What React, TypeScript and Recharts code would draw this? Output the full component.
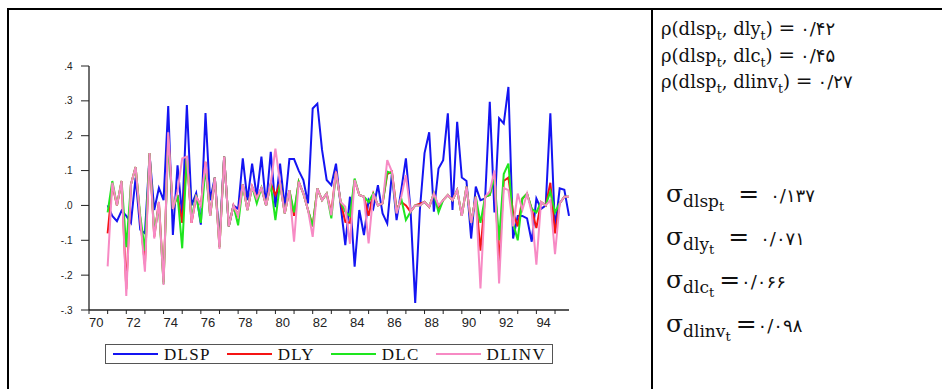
import { LineChart, Line, XAxis, YAxis } from 'recharts';

// quarterly index: 0 = 1970Q1, data starts 1971Q1 (index 4), axis ends 1995Q4
const firstObs = 4;
const lastIdx = 103;

const yearTicks = [70, 71, 72, 73, 74, 75, 76, 77, 78, 79, 80, 81, 82, 83, 84, 85, 86, 87, 88, 89, 90, 91, 92, 93, 94, 95];
const yTicks = [-0.3, -0.2, -0.1, 0, 0.1, 0.2, 0.3, 0.4];

// 1971Q1 .. 1995Q4, one line per year
const dlsp = [
  0.0, -0.03, -0.045, -0.015,
  -0.03, -0.05, 0.08, -0.07,
  -0.08, 0.145, -0.013, 0.05,
  0.015, 0.285, -0.085, 0.115,
  -0.03, 0.288, 0.0, 0.035,
  -0.055, 0.265, 0.015, 0.08,
  -0.1, 0.14, -0.06, 0.0,
  -0.01, 0.135, 0.015, 0.12,
  0.025, 0.14, 0.0, 0.154,
  -0.005, 0.12, -0.005, 0.133,
  0.133, 0.1, 0.073, 0.006,
  0.278, 0.292, 0.16, 0.073,
  0.058, 0.12, 0.0, -0.114,
  0.025, -0.176, -0.013, -0.085,
  0.015, -0.009, 0.058, -0.023,
  -0.052, 0.092, -0.042, 0.044,
  0.135, -0.013, -0.28, -0.013,
  0.15, 0.21, -0.018, 0.106,
  0.13, 0.264, -0.013, 0.24,
  0.08, 0.07, -0.095, 0.054,
  0.015, 0.02, 0.297, -0.02,
  0.25, 0.235, 0.34, -0.095,
  -0.03, -0.03, -0.037, -0.104,
  0.02, -0.01, 0.0, 0.264,
  -0.07, 0.049, 0.045, -0.03,
];

const dly = [
  -0.08, 0.06, 0.0, 0.07,
  -0.24, 0.06, 0.11, -0.04,
  -0.17, 0.15, -0.09, 0.01,
  -0.22, 0.2, -0.01, 0.03,
  -0.05, 0.14, -0.05, 0.025,
  0.0, 0.125, -0.03, 0.08,
  -0.12, 0.14, -0.06, 0.0,
  -0.03, 0.06, -0.013, 0.054,
  0.02, 0.05, 0.0, 0.063,
  0.03, 0.063, -0.023, 0.044,
  -0.03, 0.068, 0.034, -0.013,
  -0.06, 0.049, 0.015, 0.034,
  -0.02, 0.097, 0.01, -0.047,
  -0.05, 0.073, 0.03, 0.025,
  -0.03, 0.034, 0.0, 0.006,
  0.09, 0.097, -0.01, 0.01,
  0.0, -0.018, 0.0, 0.005,
  0.01, -0.005, 0.034, -0.005,
  0.015, 0.03, 0.015, 0.044,
  -0.03, 0.054, -0.05, 0.025,
  -0.13, 0.025, 0.03, 0.09,
  -0.17, 0.07, 0.08, -0.02,
  -0.06, 0.02, 0.034, -0.01,
  -0.065, 0.01, 0.0, 0.065,
  -0.08, 0.006, 0.025, 0.025,
];

const dlc = [
  -0.02, 0.07, 0.0, 0.07,
  -0.12, 0.06, 0.11, -0.03,
  -0.13, 0.15, -0.08, 0.0,
  -0.225, 0.19, -0.01, 0.03,
  -0.123, 0.14, -0.04, 0.03,
  -0.05, 0.11, -0.03, 0.08,
  -0.12, 0.14, -0.06, 0.0,
  -0.057, 0.06, -0.013, 0.054,
  0.006, 0.05, 0.0, 0.06,
  -0.042, 0.063, -0.023, 0.044,
  -0.02, 0.068, 0.034, -0.013,
  -0.06, 0.049, 0.015, 0.034,
  -0.037, 0.095, 0.01, -0.018,
  -0.03, 0.077, 0.03, 0.025,
  0.01, 0.034, 0.0, 0.006,
  0.097, 0.092, -0.02, 0.02,
  -0.042, -0.018, 0.0, 0.0,
  0.01, -0.004, 0.034, -0.02,
  0.015, 0.03, 0.015, 0.044,
  -0.03, 0.054, -0.05, 0.025,
  -0.05, 0.025, 0.03, 0.08,
  -0.1, 0.09, 0.12, -0.05,
  -0.1, 0.02, 0.034, -0.01,
  -0.02, 0.01, 0.0, 0.04,
  -0.02, 0.006, 0.025, 0.025,
];

const dlinv = [
  -0.175, 0.065, 0.0, 0.07,
  -0.26, 0.06, 0.11, -0.04,
  -0.19, 0.15, -0.095, 0.01,
  -0.228, 0.21, -0.01, 0.04,
  0.135, 0.14, -0.05, 0.025,
  0.0, 0.125, -0.03, 0.08,
  -0.125, 0.14, -0.06, 0.0,
  -0.03, 0.06, -0.013, 0.054,
  0.02, 0.05, 0.0, 0.063,
  0.163, 0.063, -0.023, 0.044,
  -0.104, 0.068, 0.034, -0.013,
  -0.09, 0.049, 0.015, 0.034,
  -0.028, 0.097, 0.01, -0.004,
  -0.11, 0.073, 0.03, 0.025,
  -0.109, 0.034, 0.0, 0.006,
  0.13, 0.097, -0.023, 0.025,
  0.087, -0.018, 0.0, 0.0,
  0.01, -0.004, 0.034, 0.0,
  0.015, 0.03, 0.015, 0.044,
  -0.03, 0.054, -0.05, 0.025,
  -0.238, 0.025, 0.04, 0.1,
  -0.224, 0.05, 0.044, -0.06,
  0.034, -0.013, 0.034, -0.02,
  -0.17, 0.01, 0.0, 0.015,
  -0.14, 0.006, 0.025, 0.025,
];

const series = [
  { key: 'DLSP', color: '#1414f2', values: dlsp },
  { key: 'DLY', color: '#f51414', values: dly },
  { key: 'DLC', color: '#1ee61e', values: dlc },
  { key: 'DLINV', color: '#f78ac4', values: dlinv },
];

// correlation / std-dev notes shown in the right-hand cell
const rhoPairs = ['dly', 'dlc', 'dlinv'];
const rhoValues = ['۰/۴۲', '۰/۴۵', '۰/۲۷'];
const sigmaNames = ['dlsp', 'dly', 'dlc', 'dlinv'];
const sigmaValues = ['۰/۱۳۷', '۰/۰۷۱', '۰/۰۶۶', '۰/۰۹۸'];
const sigmaGap = [true, true, false, false]; // space after "=" in the source

const data = Array.from({ length: lastIdx + 1 }, (_, i) => {
  const row: Record<string, number | null> = { idx: i };
  series.forEach(s => {
    const v = s.values[i - firstObs];
    row[s.key] = v === undefined ? null : v;
  });
  return row;
});

const xTicks = yearTicks.map(y => (y - 70) * 4);

const XTick = ({ x, y, payload }: any) => {
  const yr = 70 + payload.value / 4;
  if (yr % 2 !== 0) return null;
  return (
    <text x={x} y={y + 10.5} textAnchor="start" fontSize={13} fill="#222" fontFamily="Liberation Sans, Arial, sans-serif">
      {yr}
    </text>
  );
};

const YTick = ({ x, y, payload }: any) => {
  const s = (payload.value as number).toFixed(1).replace('0.', '.');
  return (
    <text x={x} y={y + 3.5} textAnchor="end" fontSize={10} fill="#222" fontFamily="Liberation Sans, Arial, sans-serif">
      {s}
    </text>
  );
};

const serif = 'Liberation Serif, Times New Roman, serif';
const mathSerif = 'DejaVu Serif, serif';
const digitFont = 'DejaVu Sans, sans-serif';

export default function App() {
  return (
    <div style={{ position: 'absolute', left: 0, top: 0, width: 942, height: 389, background: '#fff', overflow: 'hidden' }}>
      {/* table borders */}
      <div style={{ position: 'absolute', left: 7, top: 8, width: 935, height: 2, background: '#000' }} />
      <div style={{ position: 'absolute', left: 7, top: 8, width: 2, height: 381, background: '#000' }} />
      <div style={{ position: 'absolute', left: 651, top: 8, width: 2, height: 381, background: '#000' }} />

      <div style={{ position: 'absolute', left: 0, top: 0 }}>
        <LineChart width={640} height={389} data={data} margin={{ top: 66, right: 71, bottom: 49, left: 29 }}>
          <XAxis
            dataKey="idx"
            type="number"
            domain={[0, lastIdx]}
            ticks={xTicks}
            interval={0}
            height={30}
            tickSize={4}
            tickMargin={2}
            tick={<XTick />}
            axisLine={{ stroke: '#222', strokeWidth: 1.3 }}
            tickLine={{ stroke: '#222' }}
          />
          <XAxis xAxisId="top" orientation="top" type="number" domain={[0, 1]} height={0} tick={false} tickLine={false} axisLine={{ stroke: '#222', strokeWidth: 1.3 }} />
          <YAxis
            type="number"
            domain={[-0.3, 0.4]}
            ticks={yTicks}
            interval={0}
            width={60}
            tickSize={8}
            tickMargin={8.5}
            tick={<YTick />}
            axisLine={{ stroke: '#222', strokeWidth: 1.3 }}
            tickLine={{ stroke: '#222' }}
          />
          <YAxis yAxisId="right" orientation="right" type="number" domain={[0, 1]} width={0} tick={false} tickLine={false} axisLine={{ stroke: '#222', strokeWidth: 1.3 }} />
          {series.map(s => (
            <Line
              key={s.key}
              dataKey={s.key}
              type="linear"
              stroke={s.color}
              strokeWidth={2}
              dot={false}
              connectNulls={false}
              isAnimationActive={false}
            />
          ))}
        </LineChart>
      </div>

      {/* legend */}
      <div
        style={{
          position: 'absolute', left: 105, top: 344, width: 448, height: 20, boxSizing: 'border-box',
          border: '1px solid #555', display: 'flex', alignItems: 'center', justifyContent: 'space-between',
          padding: '0 6px 0 7px', background: '#fff',
        }}
      >
        {series.map(s => (
          <div key={s.key} style={{ display: 'flex', alignItems: 'center' }}>
            <span style={{ display: 'inline-block', width: 45, height: 2, background: s.color }} />
            <span style={{ marginLeft: 6, fontFamily: serif, fontSize: 17, letterSpacing: 1.3, lineHeight: '17px', color: '#111' }}>
              {s.key}
            </span>
          </div>
        ))}
      </div>

      {/* statistics cell */}
      <svg width={942} height={389} style={{ position: 'absolute', left: 0, top: 0, pointerEvents: 'none' }}>
        {rhoPairs.map((p, i) => (
          <text key={p} x={661} y={35 + i * 26.7} fontFamily={mathSerif} fontSize={18} fill="#111">
            ρ(dlsp
            <tspan fontSize={12.5} dy={5}>t</tspan>
            <tspan dy={-5}>, {p}</tspan>
            <tspan fontSize={12.5} dy={5}>t</tspan>
            <tspan dy={-5}>) </tspan>
            <tspan fontSize={20}>=</tspan>
            <tspan fontFamily={digitFont} fontSize={18} dx={5}>{rhoValues[i]}</tspan>
          </text>
        ))}
        {sigmaNames.map((n, i) => (
          <text key={n} x={666} y={201.7 + i * 43.3} fontFamily={mathSerif} fontSize={19} fill="#111">
            <tspan fontSize={25}>σ</tspan>
            <tspan fontSize={17} dy={5}>{n}</tspan>
            <tspan fontSize={13} dy={4}>t</tspan>
            <tspan fontSize={25} dy={-9} dx={sigmaGap[i] ? 14 : 5}>=</tspan>
            <tspan fontFamily={digitFont} fontSize={18} dx={sigmaGap[i] ? 11 : 1} letterSpacing={3.5}>{sigmaValues[i]}</tspan>
          </text>
        ))}
      </svg>
    </div>
  );
}
